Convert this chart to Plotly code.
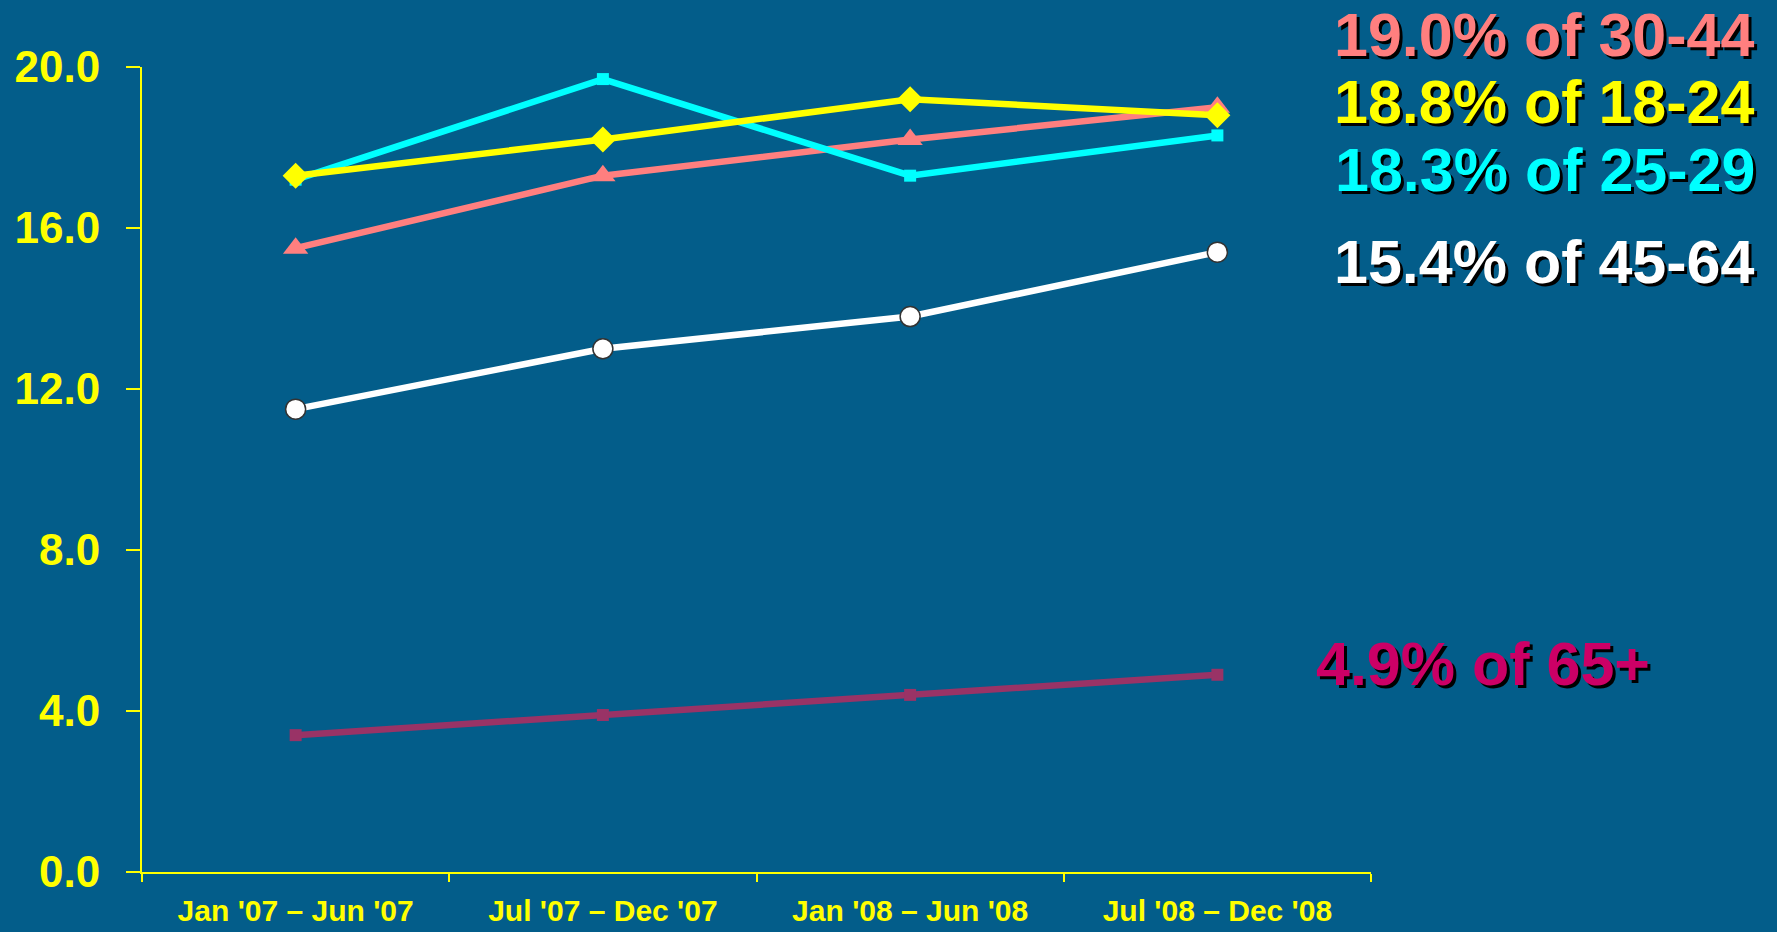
import plotly.graph_objects as go

categories = ["Jan '07 – Jun '07", "Jul '07 – Dec '07", "Jan '08 – Jun '08", "Jul '08 – Dec '08"]
age_18_24 = [17.3, 18.2, 19.2, 18.8]
age_25_29 = [17.2, 19.7, 17.3, 18.3]
age_30_44 = [15.5, 17.3, 18.2, 19.0]
age_45_64 = [11.5, 13.0, 13.8, 15.4]
age_65_plus = [3.4, 3.9, 4.4, 4.9]
y_ticks = [0, 4, 8, 12, 16, 20]

label_texts = ["19.0% of 30-44", "18.8% of 18-24", "18.3% of 25-29", "15.4% of 45-64", "4.9% of 65+"]

BG = "#035D8A"
YEL = "#FFFF00"

fig = go.Figure()

series = [
    (age_30_44, "#FF7F7F", dict(symbol="triangle-up", size=22, color="#FF7F7F")),
    (age_45_64, "#FFFFFF", dict(symbol="circle", size=20, color="#FFFFFF", line=dict(color="#333333", width=1.5))),
    (age_65_plus, "#993366", dict(symbol="square", size=12, color="#993366")),
    (age_25_29, "#00FFFF", dict(symbol="square", size=12, color="#00FFFF")),
    (age_18_24, "#FFFF00", dict(symbol="diamond", size=20, color="#FFFF00")),
]
for vals, col, mk in series:
    fig.add_trace(go.Scatter(x=categories, y=vals, mode="lines+markers",
                             line=dict(color=col, width=6.5), marker=mk,
                             showlegend=False, hoverinfo="skip"))

fig.update_xaxes(type="category", range=[-0.5, 3.5], tickson="boundaries", automargin=False,
                 showline=True, linecolor=YEL, linewidth=2, ticks="outside",
                 tickcolor=YEL, ticklen=8, tickwidth=1.5, showgrid=False, zeroline=False,
                 tickfont=dict(family="Liberation Sans, Arial", size=30, color=YEL, weight="bold"),
                 ticklabelstandoff=11)
fig.update_yaxes(range=[0, 20], tickvals=y_ticks, tickformat=".1f", automargin=False,
                 showline=True, linecolor=YEL, linewidth=2, ticks="outside",
                 tickcolor=YEL, ticklen=14, tickwidth=1.5, showgrid=False, zeroline=False,
                 tickfont=dict(family="Liberation Sans, Arial", size=44, color=YEL, weight="bold"),
                 ticklabelstandoff=17)

label_colors = ["#FF7F7F", "#FFFF00", "#00FFFF", "#FFFFFF", "#CC0066"]
label_y = [1.040, 0.956, 0.872, 0.758, 0.258]
label_x = [1.314, 1.314, 1.314, 1.314, 0.954]
anchors = ["right", "right", "right", "right", "left"]
for t, c, yy, xx, an in zip(label_texts, label_colors, label_y, label_x, anchors):
    fig.add_annotation(text=t, xref="paper", yref="paper", x=xx, y=yy,
                       xanchor=an, yanchor="middle", showarrow=False,
                       font=dict(family="Liberation Sans, Arial", size=61, color=c,
                                 weight="bold", shadow="3px 3px 0px #000000"))

fig.update_layout(width=1777, height=932, paper_bgcolor=BG, plot_bgcolor=BG,
                  margin=dict(l=142, r=406, t=67, b=60))

fig.write_html("out.html", config={"displayModeBar": False},
               post_script="document.body.style.margin='0px';")
